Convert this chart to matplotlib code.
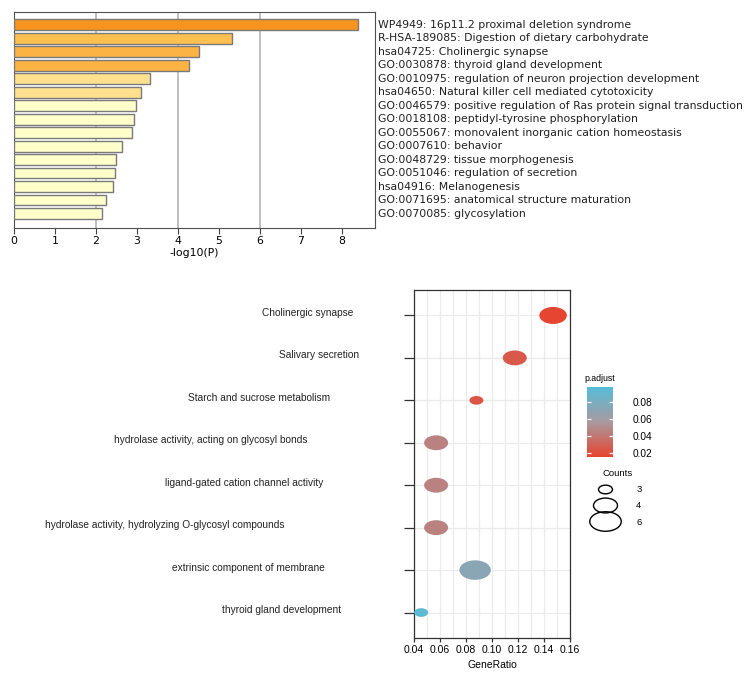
import numpy as np
import matplotlib
matplotlib.use("Agg")
import matplotlib.pyplot as plt
from matplotlib.path import Path
from matplotlib.colors import LinearSegmentedColormap, Normalize
from matplotlib.lines import Line2D
from matplotlib.transforms import blended_transform_factory

# --- верхний график: Metascape-подобная гистограмма -log10(P)
terms = [
    "WP4949: 16p11.2 proximal deletion syndrome",
    "R-HSA-189085: Digestion of dietary carbohydrate",
    "hsa04725: Cholinergic synapse",
    "GO:0030878: thyroid gland development",
    "GO:0010975: regulation of neuron projection development",
    "hsa04650: Natural killer cell mediated cytotoxicity",
    "GO:0046579: positive regulation of Ras protein signal transduction",
    "GO:0018108: peptidyl-tyrosine phosphorylation",
    "GO:0055067: monovalent inorganic cation homeostasis",
    "GO:0007610: behavior",
    "GO:0048729: tissue morphogenesis",
    "GO:0051046: regulation of secretion",
    "hsa04916: Melanogenesis",
    "GO:0071695: anatomical structure maturation",
    "GO:0070085: glycosylation",
]
logp = [8.39, 5.33, 4.52, 4.26, 3.31, 3.10, 2.97, 2.93, 2.89, 2.64,
        2.49, 2.47, 2.42, 2.24, 2.15]
bar_colors = ["#f7941d", "#fdbf4f", "#fbb444", "#fbb444", "#fee08f", "#fee08f",
              "#ffffcc", "#ffffcc", "#ffffcc", "#ffffcc", "#ffffcc", "#ffffcc",
              "#ffffcc", "#ffffcc", "#ffffcc"]

# --- нижний график: dotplot обогащения
pathways = [
    "Cholinergic synapse",
    "Salivary secretion",
    "Starch and sucrose metabolism",
    "hydrolase activity, acting on glycosyl bonds",
    "ligand-gated cation channel activity",
    "hydrolase activity, hydrolyzing O-glycosyl compounds",
    "extrinsic component of membrane",
    "thyroid gland development",
]
gene_ratio = [0.147, 0.1175, 0.088, 0.057, 0.057, 0.057, 0.087, 0.0455]
counts = [5, 4, 3, 4, 4, 4, 6, 3]
p_adjust = [0.016, 0.025, 0.024, 0.045, 0.045, 0.045, 0.071, 0.094]
legend_counts = [3, 4, 6]
cbar_ticks = [0.02, 0.04, 0.06, 0.08]

# левый край подписей путей (пиксели) - в оригинале они выровнены криво
label_left_px = [262, 279, 188, 114, 165, 45, 172, 222]

W, H = 749, 682
fig = plt.figure(figsize=(W / 100, H / 100), dpi=100)

# ---------- верх
ax1 = fig.add_axes([14 / W, 1 - 228 / H, 361 / W, 216 / H])
ypos = np.arange(len(terms))
ax1.barh(ypos, logp, height=0.8, color=bar_colors, edgecolor="#7a7a7a",
         linewidth=1.0, zorder=3)
ax1.set_ylim(len(terms) - 1 + 1.07, -0.94)
ax1.set_xlim(0, 8.81)
ax1.set_xticks(range(0, 9))
ax1.set_yticks([])
for gx in [2, 4, 6]:
    ax1.axvline(gx, color="#b4b4b4", linewidth=1.2, zorder=0)
ax1.tick_params(axis="x", labelsize=7.8, length=4, color="#404040", pad=2)
ax1.set_xlabel("-log10(P)", fontsize=7.8, labelpad=1)
for sp in ax1.spines.values():
    sp.set_color("#505050")
tr1 = blended_transform_factory(ax1.transAxes, ax1.transData)
for i, t in enumerate(terms):
    ax1.text(1.008, ypos[i], t, transform=tr1,
             ha="left", va="center", fontsize=7.8, color="#202020")

# ---------- низ
sans = ["Liberation Sans", "DejaVu Sans"]
ax2 = fig.add_axes([414 / W, 1 - 638 / H, 156 / W, 348 / H])

cmap = LinearSegmentedColormap.from_list("padj", ["#e8432e", "#a89aa0", "#56bcd8"])
norm = Normalize(vmin=0.015, vmax=0.097)

circ = Path.unit_circle()
ell = Path(circ.vertices * np.array([1.0, 0.62]), circ.codes)


def width_px(c):
    # шкала размеров пузырей: ширина эллипса в пикселях
    return np.interp(c, [3, 4, 5, 6], [14, 24, 27.5, 31.5])


def size_pt2(c):
    return (width_px(c) * 72 / 100) ** 2


yrows = np.arange(len(pathways), 0, -1)
ax2.scatter(gene_ratio, yrows, s=[size_pt2(c) for c in counts],
            c=[cmap(norm(p)) for p in p_adjust], marker=ell,
            linewidths=0, zorder=3, clip_on=False)
ax2.set_xlim(0.04, 0.16)
ax2.set_ylim(0.4, 8.6)
ax2.set_xticks(np.arange(0.04, 0.161, 0.02))
ax2.set_xticks(np.arange(0.05, 0.16, 0.02), minor=True)
ax2.set_xticklabels(["%.2f" % v for v in np.arange(0.04, 0.161, 0.02)],
                    fontsize=7.5, family=sans)
ax2.set_yticks(yrows)
ax2.set_yticklabels([])
ax2.grid(True, which="both", color="#ebebeb", linewidth=0.9, zorder=0)
ax2.set_axisbelow(True)
ax2.tick_params(axis="y", length=7, width=0.9, color="#333333")
ax2.tick_params(axis="x", which="major", length=3, width=0.9, color="#333333", pad=2)
ax2.tick_params(axis="x", which="minor", length=0)
for sp in ax2.spines.values():
    sp.set_color("#333333")
    sp.set_linewidth(0.9)
ax2.set_xlabel("GeneRatio", fontsize=7.5, family=sans, labelpad=4)

tr = blended_transform_factory(fig.transFigure, ax2.transData)
for name, xl, yv in zip(pathways, label_left_px, yrows):
    ax2.text(xl / W, yv + 0.06, name, transform=tr, ha="left", va="center",
             fontsize=7.3, family=sans, color="#222222")

# колорбар p.adjust
cax = fig.add_axes([587 / W, 1 - 457 / H, 26 / W, 70 / H])
cb = fig.colorbar(plt.cm.ScalarMappable(norm=norm, cmap=cmap), cax=cax)
cb.set_ticks(cbar_ticks)
cb.set_ticklabels(["%.2f" % v for v in cbar_ticks])
cb.outline.set_visible(False)
cax.tick_params(axis="y", direction="in", length=3, width=0.9, color="white",
                left=True, right=True, labelsize=7.3, pad=14)
for lab in cax.get_yticklabels():
    lab.set_family(sans)
cax.set_title("p.adjust", fontsize=6.3, family=sans, pad=4)

# легенда Counts
handles = [Line2D([], [], linestyle="none", marker=ell,
                  markersize=width_px(c) * 72 / 100, markerfacecolor="none",
                  markeredgecolor="black", markeredgewidth=1.0) for c in legend_counts]
leg = fig.legend(handles, [str(c) for c in legend_counts], title="Counts",
                 loc="upper left", bbox_to_anchor=(588 / W, 1 - 462 / H),
                 frameon=False, fontsize=6.8, title_fontsize=6.8,
                 handlelength=2.2, labelspacing=0.78, handletextpad=2.2,
                 borderpad=0.2)
for txt in leg.get_texts():
    txt.set_family(sans)
leg.get_title().set_family(sans)

fig.savefig("out.png", dpi=100)
